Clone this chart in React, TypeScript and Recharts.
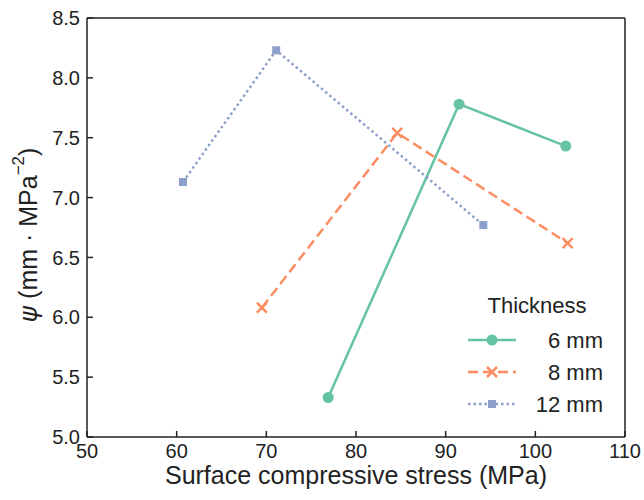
import React from "react";
import {
  LineChart,
  Line,
  XAxis,
  YAxis,
  ReferenceLine,
  Label,
} from "recharts";

const xTicks = [50, 60, 70, 80, 90, 100, 110];
const yTicks = [5.0, 5.5, 6.0, 6.5, 7.0, 7.5, 8.0, 8.5];

const stress6 = [76.9, 91.5, 103.4];
const psi6 = [5.33, 7.78, 7.43];
const stress8 = [69.5, 84.6, 103.6];
const psi8 = [6.08, 7.54, 6.62];
const stress12 = [60.7, 71.1, 94.2];
const psi12 = [7.13, 8.23, 6.77];

const toPoints = (xs: number[], ys: number[]) => xs.map((x, i) => ({ x, y: ys[i] }));

const series = [
  { name: "6 mm", color: "#66c2a5", dash: undefined, shape: "circle", data: toPoints(stress6, psi6) },
  { name: "8 mm", color: "#fc8d62", dash: "10 5", shape: "x", data: toPoints(stress8, psi8) },
  { name: "12 mm", color: "#8da0cb", dash: "2.5 3", shape: "square", data: toPoints(stress12, psi12) },
];

const FONT = "'Liberation Sans', Arial, Helvetica, sans-serif";
const INK = "#222";

function Marker({ cx, cy, shape, color }: any) {
  if (cx == null || cy == null) return null;
  if (shape === "circle") return <circle cx={cx} cy={cy} r={5.5} fill={color} />;
  if (shape === "square")
    return <rect x={cx - 4} y={cy - 4} width={8} height={8} fill={color} />;
  const s = 5;
  return (
    <g stroke={color} strokeWidth={2.5}>
      <line x1={cx - s} y1={cy - s} x2={cx + s} y2={cy + s} />
      <line x1={cx - s} y1={cy + s} x2={cx + s} y2={cy - s} />
    </g>
  );
}

// legend drawn as an overlay, box origin at page (468, 268)
function LegendBox() {
  return (
    <svg
      width={160}
      height={150}
      style={{ position: "absolute", left: 468, top: 268, display: "block" }}
    >
      <text x={69} y={45} textAnchor="middle" fontSize={22} fontFamily={FONT} fill={INK}>
        Thickness
      </text>
      {series.map((s, i) => {
        const y = 72 + i * 32;
        return (
          <g key={s.name}>
            <line
              x1={0}
              x2={48}
              y1={y}
              y2={y}
              stroke={s.color}
              strokeWidth={2.5}
              strokeDasharray={s.dash}
            />
            <Marker cx={24} cy={y} shape={s.shape} color={s.color} />
            <text x={135} y={y + 8} textAnchor="end" fontSize={22} fontFamily={FONT} fill={INK}>
              {s.name}
            </text>
          </g>
        );
      })}
    </svg>
  );
}

function YTitle() {
  const cx = 30;
  const cy = 235;
  return (
    <text
      x={cx}
      y={cy}
      transform={`rotate(-90 ${cx} ${cy})`}
      textAnchor="middle"
      dominantBaseline="middle"
      fontSize={25}
      fontFamily={FONT}
      fill={INK}
    >
      <tspan fontStyle="italic" fontFamily="'DejaVu Sans', sans-serif">ψ</tspan>
      <tspan> (mm · MPa</tspan>
      <tspan dy={-10} fontSize={17}>−2</tspan>
      <tspan dy={10}>)</tspan>
    </text>
  );
}

export default function App() {
  return (
    <div style={{ position: "absolute", left: 0, top: 0, width: 644, height: 500, background: "#fff" }}>
      <LineChart
        width={644}
        height={500}
        margin={{ top: 18, right: 19, left: 0, bottom: 0 }}
      >
        <XAxis
          type="number"
          dataKey="x"
          domain={[50, 110]}
          ticks={xTicks}
          allowDuplicatedCategory={false}
          height={63}
          stroke={INK}
          strokeWidth={1.5}
          tickSize={-6}
          tickMargin={13}
          tick={{ fill: INK, fontSize: 20, fontFamily: FONT }}
        >
          <Label
            value="Surface compressive stress (MPa)"
            position="bottom"
            offset={-34}
            style={{ fill: INK, fontSize: 25, fontFamily: FONT }}
          />
        </XAxis>
        <YAxis
          type="number"
          dataKey="y"
          domain={[5, 8.5]}
          ticks={yTicks}
          width={87}
          stroke={INK}
          strokeWidth={1.5}
          tickSize={-6}
          tickMargin={13}
          tickFormatter={(v: number) => v.toFixed(1)}
          tick={{ fill: INK, fontSize: 20, fontFamily: FONT }}
        >
          <Label content={<YTitle />} />
        </YAxis>
        <ReferenceLine x={110} stroke={INK} strokeWidth={1.5} ifOverflow="visible" />
        <ReferenceLine y={8.5} stroke={INK} strokeWidth={1.5} ifOverflow="visible" />
        {series.map((s) => (
          <Line
            key={s.name}
            name={s.name}
            data={s.data}
            dataKey="y"
            stroke={s.color}
            strokeWidth={2.5}
            strokeDasharray={s.dash}
            dot={(p: any) => <Marker key={`${s.name}-${p.index}`} cx={p.cx} cy={p.cy} shape={s.shape} color={s.color} />}
            activeDot={false}
            isAnimationActive={false}
          />
        ))}
      </LineChart>
      <LegendBox />
    </div>
  );
}
